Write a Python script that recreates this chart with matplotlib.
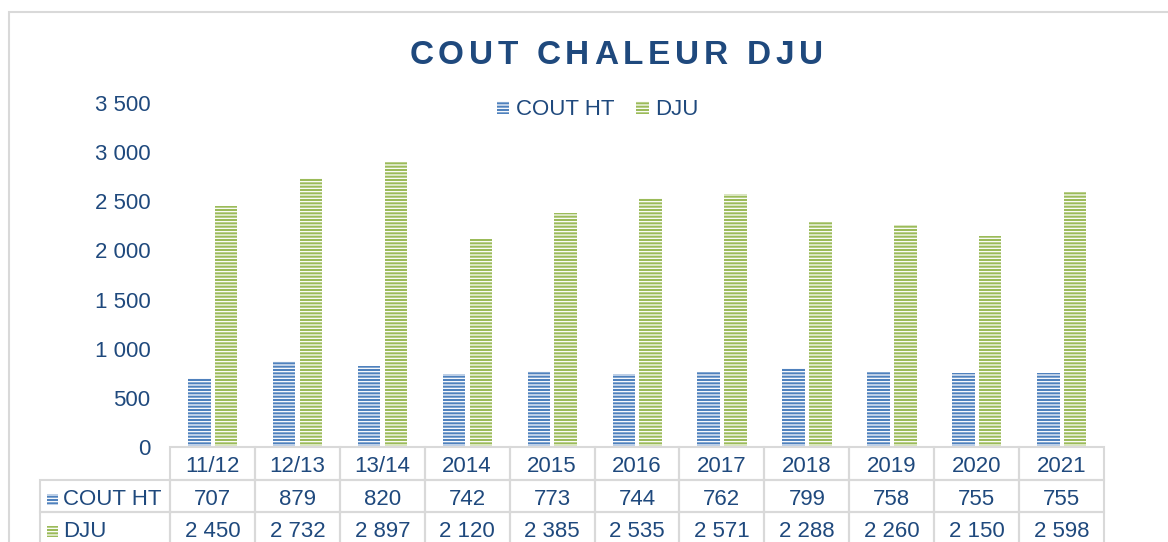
import matplotlib
matplotlib.use('Agg')
import matplotlib.pyplot as plt
import matplotlib.transforms as mtransforms
import numpy as np
from matplotlib.patches import Rectangle
from matplotlib.font_manager import FontProperties

years = ['11/12', '12/13', '13/14', '2014', '2015', '2016', '2017', '2018', '2019', '2020', '2021']
cout_ht = [707, 879, 820, 742, 773, 744, 762, 799, 758, 755, 755]
dju = [2450, 2732, 2897, 2120, 2385, 2535, 2571, 2288, 2260, 2150, 2598]
series_names = ['COUT HT', 'DJU']
yticks = [0, 500, 1000, 1500, 2000, 2500, 3000, 3500]

blue = '#4f81bd'
green = '#9bbb59'
txt = '#1f497d'
grid_c = '#d9d9d9'

plt.rcParams['font.family'] = ['Liberation Sans', 'DejaVu Sans']
plt.rcParams['hatch.linewidth'] = 0.9

def fmt(v):
    return '{:,}'.format(v).replace(',', ' ')

fig = plt.figure(figsize=(11.68, 5.42), dpi=100)
ax = fig.add_axes([170/1168, 1-447/542, 934/1168, 344/542])

x = np.arange(len(years))
w = 0.265
ax.bar(x - 0.155, cout_ht, w, color=blue, edgecolor='white', linewidth=0,
       hatch='-----', label=series_names[0])
ax.bar(x + 0.16, dju, w, color=green, edgecolor='white', linewidth=0,
       hatch='-----', label=series_names[1])

ax.set_xlim(-0.5, len(years) - 0.5)
ax.set_ylim(0, 3500)
ax.set_yticks(yticks)
ax.set_yticklabels([fmt(v) for v in yticks])
ax.tick_params(axis='y', length=0, pad=14, labelsize=16, labelcolor=txt)
ax.set_xticks([])
for s in ax.spines.values():
    s.set_visible(False)

leg = ax.legend(loc='center', bbox_to_anchor=(0.458, 0.98), ncol=2, frameon=False,
                fontsize=16, handlelength=0.55, handleheight=0.55, handletextpad=0.3,
                columnspacing=1.0)
for t in leg.get_texts():
    t.set_color(txt)

# data table under the chart (x in data units, y in axes fraction)
trans = mtransforms.blended_transform_factory(ax.transData, ax.transAxes)
rh = 32.7 / 344
lab_w = 130 / (934 / len(years))
txt_shift = 3 / 344  # nudge text down a little, like the reference

def cell(x0, y0, cw, text, ha='center', tx=None):
    ax.add_patch(Rectangle((x0, y0), cw, rh, transform=trans, fill=False,
                           edgecolor=grid_c, linewidth=1.5, clip_on=False))
    if tx is None:
        tx = x0 + cw / 2
    ax.text(tx, y0 + rh / 2 - txt_shift, text, transform=trans, ha=ha, va='center',
            fontsize=16, color=txt, clip_on=False)

rows = [cout_ht, dju]
for j, lab in enumerate(years):
    cell(j - 0.5, -rh, 1, lab)
    for i, r in enumerate(rows):
        cell(j - 0.5, -rh * (i + 2), 1, fmt(r[j]))

keys = [blue, green]
for i, name in enumerate(series_names):
    x0 = -0.5 - lab_w
    cell(x0, -rh * (i + 2), lab_w, name, ha='left', tx=x0 + 23 / 84.9)
    ax.add_patch(Rectangle((x0 + 7 / 84.9, -rh * (i + 2) + rh / 2 - txt_shift - 5.5 / 344),
                           11 / 84.9, 11 / 344, transform=trans, facecolor=keys[i],
                           edgecolor='white', linewidth=0, hatch='-----', clip_on=False))

# outer frame
fig.add_artist(Rectangle((9/1168, -0.1), 1.2, 1.1 - 12/542, transform=fig.transFigure,
                         fill=False, edgecolor=grid_c, linewidth=1.5))

# letter-spaced title
fp = FontProperties(family='Liberation Sans', weight='bold', size=24)
title = 'COUT CHALEUR DJU'
rend = fig.canvas.get_renderer()
def tw(s):
    return rend.get_text_width_height_descent(s + 'X', fp, ismath=False)[0] - \
        rend.get_text_width_height_descent('X', fp, ismath=False)[0]
gap = 4.7
full = tw(title) + gap * (len(title) - 1)
x0 = 616 - full / 2
for k, ch in enumerate(title):
    xp = x0 + tw(title[:k]) + gap * k
    fig.text(xp / 1168, 1 - 55/542, ch, fontproperties=fp, color=txt,
             ha='left', va='center')

fig.savefig('out.png', dpi=100)
